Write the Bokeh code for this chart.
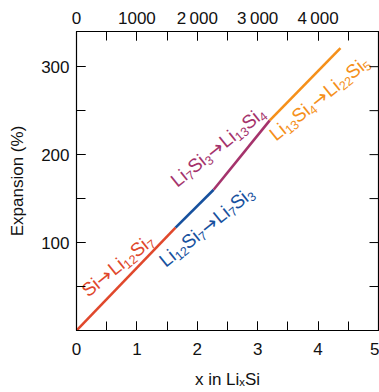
import math
import re
from bokeh.plotting import figure
from bokeh.models import Range1d, LinearAxis, FixedTicker, ColumnDataSource
from bokeh.core.properties import value
from bokeh.embed import file_html
from bokeh.resources import INLINE

# ---- data ----
phase_labels = ["Si→Li_{12}Si_{7}", "Li_{12}Si_{7}→Li_{7}Si_{3}",
                "Li_{7}Si_{3}→Li_{13}Si_{4}", "Li_{13}Si_{4}→Li_{22}Si_{5}"]
x_start = [0.0, 1.64, 2.27, 3.20]
x_end = [1.64, 2.27, 3.20, 4.37]
exp_start = [0.0, 117.0, 160.0, 239.0]
exp_end = [117.0, 160.0, 239.0, 321.0]
colors = ["#e0482c", "#17519e", "#a5336c", "#f5901a"]

x_ticks = [0, 1, 2, 3, 4, 5]
x_minor = [0, 0.5, 1, 1.5, 2, 2.5, 3, 3.5, 4, 4.5, 5]
y_ticks = [100, 200, 300]
y_minor = [0, 50, 100, 150, 200, 250, 300]
cap_ticks = [0, 1000, 2000, 3000, 4000]
cap_minor = [0, 500, 1000, 1500, 2000, 2500, 3000, 3500, 4000, 4500, 5000]
cap_tick_labels = ["0", "1000", "2\u2009000", "3\u2009000", "4\u2009000"]

# label placement (layout)
lab_x = [0.61, 2.08, 2.27, 3.95]
lab_y = [80, 124, 215, 270]
lab_angle = [39, 39, 39, 39]

FONT = "Liberation Sans"
ARROW_FONT = "DejaVu Sans"
FS_MAIN = 19
FS_SUB = 12.5
SUB_SHIFT = 5.0
ADV = {"S": 667, "i": 222, "L": 556}
ARROW_ADV = 838


def split_pieces(s):
    out = []
    for m in re.finditer(r"_\{([^}]*)\}|(→)|([^_→]+)", s):
        if m.group(1) is not None:
            out.append((m.group(1), "sub"))
        elif m.group(2) is not None:
            out.append((m.group(2), "arrow"))
        else:
            out.append((m.group(3), "main"))
    return out


def width(txt, kind):
    if kind == "arrow":
        return ARROW_ADV * FS_MAIN / 1000.0 + 1.0
    fs = FS_SUB if kind == "sub" else FS_MAIN
    return sum(ADV.get(c, 556) for c in txt) * fs / 1000.0


rows_by_kind = {k: dict(x=[], y=[], t=[], dx=[], dy=[], a=[], c=[]) for k in ("main", "sub", "arrow")}
for i, s in enumerate(phase_labels):
    pcs = split_pieces(s)
    a = math.radians(lab_angle[i])
    dirx, diry = math.cos(a), -math.sin(a)
    downx, downy = math.sin(a), math.cos(a)
    total = sum(width(t, k) for t, k in pcs)
    d = -total / 2.0
    base = FS_MAIN * 0.716 / 2.0
    for t, k in pcs:
        shift = base + (SUB_SHIFT if k == "sub" else 0.0)
        rows = rows_by_kind[k]
        rows["x"].append(lab_x[i])
        rows["y"].append(lab_y[i])
        rows["t"].append(t)
        rows["dx"].append(d * dirx + shift * downx)
        rows["dy"].append(d * diry + shift * downy)
        rows["a"].append(lab_angle[i])
        rows["c"].append(colors[i])
        d += width(t, k)

p = figure(width=379, height=392,
           x_range=Range1d(0, 5), y_range=Range1d(0, 340),
           output_backend="svg", toolbar_location=None,
           min_border_left=76, min_border_right=1, min_border_top=31, min_border_bottom=62)
p.extra_x_ranges = {"cap": Range1d(0, 5000)}
p.grid.visible = False
p.outline_line_color = "black"
p.outline_line_width = 1.2
p.background_fill_color = "white"
p.border_fill_color = "white"

for i in range(4):
    p.line([x_start[i], x_end[i]], [exp_start[i], exp_end[i]], line_color=colors[i], line_width=2.6)

for k, fs, font in (("main", FS_MAIN, FONT), ("sub", FS_SUB, FONT), ("arrow", FS_MAIN, ARROW_FONT)):
    p.text(x="x", y="y", text="t", angle="a", angle_units="deg", text_color="c",
           x_offset="dx", y_offset="dy", source=ColumnDataSource(rows_by_kind[k]),
           text_align="left", text_baseline="alphabetic",
           text_font=value(font), text_font_size=f"{fs}px")

# right-hand inward ticks
p.ray(x=[5] * len(y_minor), y=y_minor, length=9, length_units="screen",
      angle=180, angle_units="deg", line_color="black", line_width=1)

top = LinearAxis(x_range_name="cap")
p.add_layout(top, "above")


def style(ax):
    ax.axis_line_color = "black"
    ax.major_tick_line_color = "black"
    ax.minor_tick_line_color = "black"
    ax.major_tick_in = 9
    ax.major_tick_out = 0
    ax.minor_tick_in = 9
    ax.minor_tick_out = 0
    ax.major_label_text_font = FONT
    ax.major_label_text_font_size = "17px"
    ax.major_label_text_color = "#111111"
    ax.axis_label_text_font = FONT
    ax.axis_label_text_font_size = "17px"
    ax.axis_label_text_font_style = "normal"
    ax.axis_label_text_color = "#111111"


for ax in p.xaxis + p.yaxis:
    style(ax)

xa = p.below[0]
xa.ticker = FixedTicker(ticks=x_ticks, minor_ticks=x_minor)
xa.axis_label = "x in LiₓSi"
xa.major_label_standoff = 12
xa.axis_label_standoff = 12

ya = p.left[0]
ya.ticker = FixedTicker(ticks=y_ticks, minor_ticks=y_minor)
ya.axis_label = "Expansion (%)"
ya.major_label_standoff = 7
ya.axis_label_standoff = 11

top.ticker = FixedTicker(ticks=cap_ticks, minor_ticks=cap_minor)
top.major_label_overrides = {t: l for t, l in zip(cap_ticks, cap_tick_labels)}
top.major_label_standoff = 4
top.major_label_text_line_height = 0.8

open("out.html", "w").write(file_html(p, INLINE))
